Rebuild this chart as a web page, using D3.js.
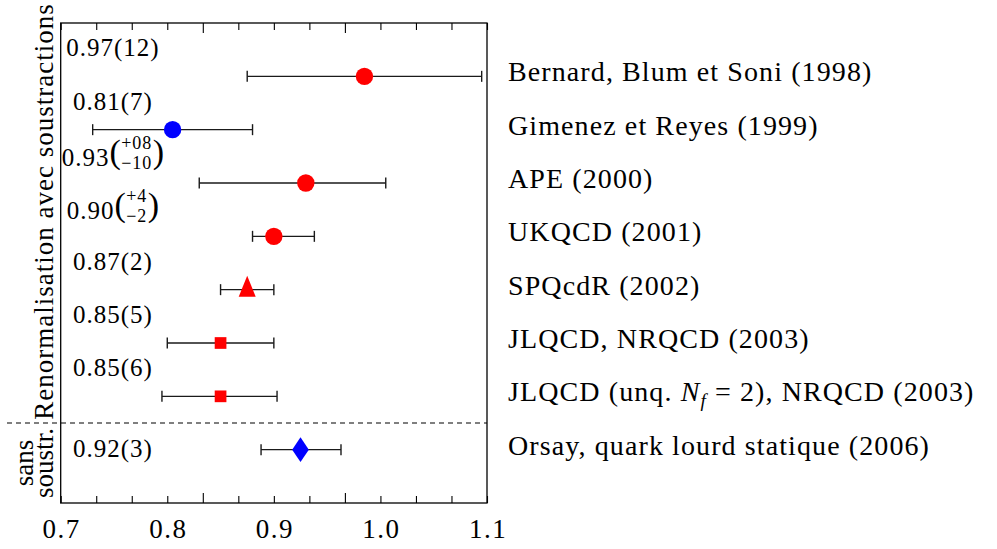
<!DOCTYPE html>
<html>
<head>
<meta charset="utf-8">
<script src="https://cdn.jsdelivr.net/npm/d3@7"></script>
<style>
  body { margin: 0; background: #ffffff; }
  svg { display: block; font-family: 'Liberation Serif', serif; }
</style>
</head>
<body>
<svg id="chart" width="997" height="549"></svg>
<script>
// one row per study, top to bottom
const studies = [
  'Bernard, Blum et Soni (1998)',
  'Gimenez et Reyes (1999)',
  'APE (2000)',
  'UKQCD (2001)',
  'SPQcdR (2002)',
  'JLQCD, NRQCD (2003)',
  'JLQCD (unq. N_f = 2), NRQCD (2003)',
  'Orsay, quark lourd statique (2006)'
];
const centers = [0.985, 0.805, 0.930, 0.900, 0.875, 0.850, 0.850, 0.925];
const lows = [0.875, 0.730, 0.830, 0.880, 0.850, 0.800, 0.795, 0.888];
const highs = [1.095, 0.880, 1.005, 0.938, 0.900, 0.900, 0.903, 0.963];
const markers = ['circle', 'circle', 'circle', 'circle', 'triangle', 'square', 'square', 'diamond'];
const markerColors = ['red', 'blue', 'red', 'red', 'red', 'red', 'red', 'blue'];
const groups = ['avec', 'avec', 'avec', 'avec', 'avec', 'avec', 'avec', 'sans'];

// printed values
const valueText = ['0.97', '0.81', '0.93', '0.90', '0.87', '0.85', '0.85', '0.92'];
const errText = ['12', '7', null, null, '2', '5', '6', '3'];
const errUp = [null, null, '+08', '+4', null, null, null, null];
const errDown = [null, null, '\u221210', '\u22122', null, null, null, null];

// axis
const tickLabels = [0.7, 0.8, 0.9, 1.0, 1.1];
const minorStep = 1 / 30;
const longTicks = [0.8333, 0.9667];

const groupTitles = {
  avec: ['Renormalisation avec soustractions'],
  sans: ['sans', 'soustr.']
};

const COLORS = { red: '#ff0000', blue: '#0000ff', bar: '#1a1a1a' };

const PLOT = { left: 60.7, right: 487, top: 23, bottom: 503 };

const svg = d3.select('#chart');

const x = d3.scaleLinear()
  .domain([tickLabels[0], tickLabels[tickLabels.length - 1]])
  .range([PLOT.left, PLOT.right]);

const y = d3.scaleLinear()
  .domain([0, studies.length + 1])
  .range([PLOT.top, PLOT.bottom]);

// custom marker shapes (pgf-like tall triangle / diamond)
const tallTriangle = {
  draw(ctx, size) {
    const w = Math.sqrt(size);
    ctx.moveTo(0, -w * 0.82);
    ctx.lineTo(w / 2, w * 0.41);
    ctx.lineTo(-w / 2, w * 0.41);
    ctx.closePath();
  }
};
const tallDiamond = {
  draw(ctx, size) {
    const w = Math.sqrt(size);
    ctx.moveTo(0, -w * 0.74);
    ctx.lineTo(w / 2, 0);
    ctx.lineTo(0, w * 0.74);
    ctx.lineTo(-w / 2, 0);
    ctx.closePath();
  }
};
const MARKER = {
  circle: { type: d3.symbolCircle, size: 238 },
  square: { type: d3.symbolSquare, size: 137 },
  triangle: { type: tallTriangle, size: 289 },
  diamond: { type: tallDiamond, size: 279 }
};

const rows = studies.map((s, i) => ({
  name: s, row: i + 1, c: centers[i], lo: lows[i], hi: highs[i],
  marker: markers[i], color: COLORS[markerColors[i]], group: groups[i], i: i
}));

// ticks (marks only, labels drawn below)
const xTicks = d3.range(0, Math.round((x.domain()[1] - x.domain()[0]) / minorStep) + 1)
  .map(k => x.domain()[0] + k * minorStep);
const isLong = d => longTicks.some(v => Math.abs(v - d) < 1e-3);

const axisB = d3.axisBottom(x)
  .tickValues(xTicks)
  .tickSizeInner(-7)
  .tickSizeOuter(0)
  .tickFormat('');

const axisT = d3.axisTop(x)
  .tickValues(xTicks)
  .tickSizeInner(-7)
  .tickSizeOuter(0)
  .tickFormat('');

const gB = svg.append('g')
  .attr('class', 'axis axis-x')
  .attr('transform', 'translate(0,' + PLOT.bottom + ')')
  .call(axisB);
const gT = svg.append('g')
  .attr('class', 'axis axis-x-top')
  .attr('transform', 'translate(0,' + PLOT.top + ')')
  .call(axisT);

[gB, gT].forEach(g => {
  g.select('.domain').remove();
  g.selectAll('.tick text').remove();
  g.selectAll('.tick line').attr('stroke', '#000').attr('stroke-width', 1.1);
});
gB.selectAll('.tick line').filter(isLong).attr('y2', -10);
gT.selectAll('.tick line').filter(isLong).attr('y2', 10);

svg.append('g')
  .attr('class', 'tick-labels')
  .selectAll('text')
  .data(tickLabels)
  .enter()
  .append('text')
  .attr('x', d => x(d) + 1)
  .attr('y', PLOT.bottom + 35)
  .attr('text-anchor', 'middle')
  .attr('font-size', 27)
  .attr('letter-spacing', 1.5)
  .attr('fill', '#000')
  .text(d3.format('.1f'));

// frame
svg.append('rect')
  .attr('x', PLOT.left)
  .attr('y', PLOT.top)
  .attr('width', PLOT.right - PLOT.left)
  .attr('height', PLOT.bottom - PLOT.top)
  .attr('fill', 'none')
  .attr('stroke', '#000')
  .attr('stroke-width', 1.3);

// separator between the two groups
const lastAvec = d3.max(rows.filter(d => d.group === 'avec'), d => d.row);
const sepY = y(lastAvec + 0.5);
svg.append('line')
  .attr('x1', 7)
  .attr('x2', PLOT.right)
  .attr('y1', sepY)
  .attr('y2', sepY)
  .attr('stroke', '#000')
  .attr('stroke-width', 1.1)
  .attr('stroke-dasharray', '5,4');

// error bars
const bars = svg.append('g').attr('class', 'error-bars')
  .selectAll('g')
  .data(rows)
  .enter()
  .append('g')
  .attr('stroke', COLORS.bar)
  .attr('stroke-width', 1.4);

bars.append('line')
  .attr('x1', d => x(d.lo))
  .attr('x2', d => x(d.hi))
  .attr('y1', d => y(d.row))
  .attr('y2', d => y(d.row));
bars.selectAll('.cap')
  .data(d => [{ v: d.lo, row: d.row }, { v: d.hi, row: d.row }])
  .enter()
  .append('line')
  .attr('class', 'cap')
  .attr('x1', d => x(d.v))
  .attr('x2', d => x(d.v))
  .attr('y1', d => y(d.row) - 5.5)
  .attr('y2', d => y(d.row) + 5.5);

// markers
svg.append('g').attr('class', 'markers')
  .selectAll('path')
  .data(rows)
  .enter()
  .append('path')
  .attr('d', d => d3.symbol().type(MARKER[d.marker].type).size(MARKER[d.marker].size)())
  .attr('transform', d => 'translate(' + x(d.c) + ',' + y(d.row) + ')')
  .attr('fill', d => d.color);

// study names on the right
const names = svg.append('g').attr('class', 'names')
  .selectAll('text')
  .data(rows)
  .enter()
  .append('text')
  .attr('x', PLOT.right + 21)
  .attr('y', d => y(d.row) + 5)
  .attr('font-size', 28)
  .attr('letter-spacing', 1.1)
  .attr('fill', '#000');

names.each(function (d) {
  const t = d3.select(this);
  const m = d.name.match(/^(.*?)(\w)_(\w)(.*)$/);
  if (!m) {
    t.text(d.name);
    return;
  }
  t.append('tspan').text(m[1]);
  t.append('tspan').attr('font-style', 'italic').text(m[2]);
  t.append('tspan').attr('font-style', 'italic').attr('font-size', 19).attr('dy', 6).text(m[3]);
  t.append('tspan').attr('dy', -6).text(m[4]);
});

// printed values, centred in the left part of the plot
const labelX = x(0.749);
rows.forEach(d => {
  const i = d.i;
  const lab = svg.append('g').attr('class', 'value-label').attr('fill', '#000');
  const main = lab.append('text')
    .attr('x', 0)
    .attr('y', 0)
    .attr('font-size', 25)
    .attr('letter-spacing', 1)
    .text(errText[i] ? valueText[i] + '(' + errText[i] + ')' : valueText[i]);
  let cursor = main.node().getComputedTextLength();
  if (errUp[i]) {
    const open = lab.append('text')
      .attr('x', cursor).attr('y', -3)
      .attr('font-size', 34)
      .text('(');
    cursor += open.node().getComputedTextLength();
    // +err over -err
    const up = lab.append('text')
      .attr('y', -17)
      .attr('font-size', 18)
      .attr('letter-spacing', 1)
      .attr('text-anchor', 'middle')
      .text(errUp[i]);
    const down = lab.append('text')
      .attr('y', 3)
      .attr('font-size', 18)
      .attr('letter-spacing', 1)
      .attr('text-anchor', 'middle')
      .text(errDown[i]);
    const w = Math.max(up.node().getComputedTextLength(), down.node().getComputedTextLength()) + 1;
    up.attr('x', cursor + w / 2);
    down.attr('x', cursor + w / 2);
    cursor += w;
    lab.append('text')
      .attr('x', cursor).attr('y', -3)
      .attr('font-size', 34)
      .text(')');
  }
  const bb = lab.node().getBBox();
  let baseY = y(d.row) - 20;
  if (d.group === 'sans') baseY = y(d.row) + 7;
  else if (errUp[i]) baseY = y(d.row) - 17;
  lab.attr('transform', 'translate(' + (labelX - bb.x - bb.width / 2) + ',' + baseY + ')');
});

// group titles, rotated on the left
const avecMid = sepY / 2;
const sansMid = (sepY + PLOT.bottom) / 2;
svg.append('text')
  .attr('transform', 'translate(53,' + avecMid + ') rotate(-90)')
  .attr('text-anchor', 'middle')
  .attr('font-size', 27)
  .attr('letter-spacing', 1)
  .text(groupTitles.avec[0]);
groupTitles.sans.forEach((t, k) => {
  svg.append('text')
    .attr('transform', 'translate(' + (33 + k * 20) + ',' + sansMid + ') rotate(-90)')
    .attr('text-anchor', 'middle')
    .attr('font-size', 27)
    .text(t);
});
</script>
</body>
</html>
